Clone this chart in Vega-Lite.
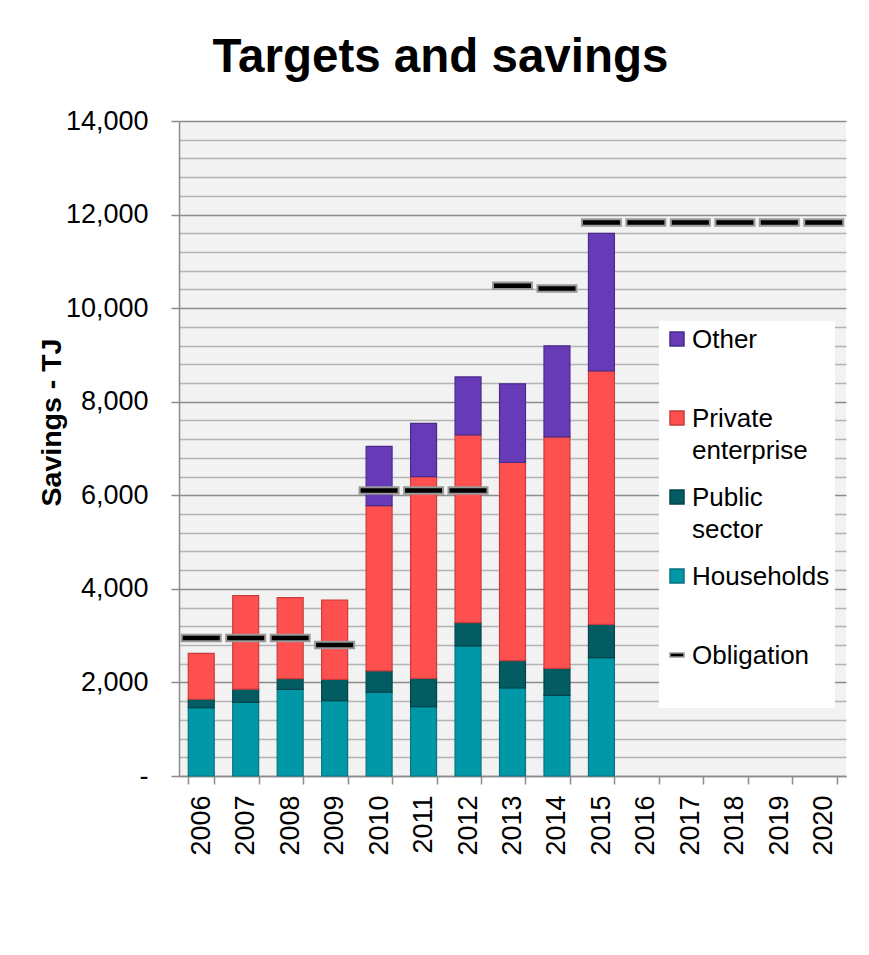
{
  "$schema": "https://vega.github.io/schema/vega-lite/v6.json",
  "width": 667,
  "height": 655,
  "autosize": {"type": "none"},
  "padding": {"left": 179, "top": 121, "right": 23, "bottom": 179},
  "background": "white",
  "title": {
    "text": "Targets and savings",
    "font": "Liberation Sans",
    "fontSize": 47.5,
    "fontWeight": "bold",
    "color": "black",
    "anchor": "middle",
    "frame": "group",
    "dx": -72,
    "dy": 48,
    "baseline": "alphabetic",
    "offset": 36
  },
  "config": {
    "font": "Liberation Sans",
    "view": {"fill": "#F2F2F2", "stroke": null}
  },
  "datasets": {
    "savings": [
      {"year": "2006", "series": "Households", "rank": 1, "value": 1460},
      {"year": "2006", "series": "Public sector", "rank": 2, "value": 180},
      {"year": "2006", "series": "Private enterprise", "rank": 3, "value": 980},
      {"year": "2007", "series": "Households", "rank": 1, "value": 1575},
      {"year": "2007", "series": "Public sector", "rank": 2, "value": 280},
      {"year": "2007", "series": "Private enterprise", "rank": 3, "value": 2000},
      {"year": "2008", "series": "Households", "rank": 1, "value": 1853},
      {"year": "2008", "series": "Public sector", "rank": 2, "value": 227},
      {"year": "2008", "series": "Private enterprise", "rank": 3, "value": 1732},
      {"year": "2009", "series": "Households", "rank": 1, "value": 1610},
      {"year": "2009", "series": "Public sector", "rank": 2, "value": 457},
      {"year": "2009", "series": "Private enterprise", "rank": 3, "value": 1695},
      {"year": "2010", "series": "Households", "rank": 1, "value": 1792},
      {"year": "2010", "series": "Public sector", "rank": 2, "value": 455},
      {"year": "2010", "series": "Private enterprise", "rank": 3, "value": 3530},
      {"year": "2010", "series": "Other", "rank": 4, "value": 1270},
      {"year": "2011", "series": "Households", "rank": 1, "value": 1482},
      {"year": "2011", "series": "Public sector", "rank": 2, "value": 603},
      {"year": "2011", "series": "Private enterprise", "rank": 3, "value": 4313},
      {"year": "2011", "series": "Other", "rank": 4, "value": 1140},
      {"year": "2012", "series": "Households", "rank": 1, "value": 2782},
      {"year": "2012", "series": "Public sector", "rank": 2, "value": 495},
      {"year": "2012", "series": "Private enterprise", "rank": 3, "value": 4012},
      {"year": "2012", "series": "Other", "rank": 4, "value": 1240},
      {"year": "2013", "series": "Households", "rank": 1, "value": 1881},
      {"year": "2013", "series": "Public sector", "rank": 2, "value": 584},
      {"year": "2013", "series": "Private enterprise", "rank": 3, "value": 4240},
      {"year": "2013", "series": "Other", "rank": 4, "value": 1678},
      {"year": "2014", "series": "Households", "rank": 1, "value": 1724},
      {"year": "2014", "series": "Public sector", "rank": 2, "value": 577},
      {"year": "2014", "series": "Private enterprise", "rank": 3, "value": 4948},
      {"year": "2014", "series": "Other", "rank": 4, "value": 1946},
      {"year": "2015", "series": "Households", "rank": 1, "value": 2529},
      {"year": "2015", "series": "Public sector", "rank": 2, "value": 713},
      {"year": "2015", "series": "Private enterprise", "rank": 3, "value": 5414},
      {"year": "2015", "series": "Other", "rank": 4, "value": 2944}
    ],
    "obligation": [
      {"year": "2006", "series": "Obligation", "value": 2950},
      {"year": "2007", "series": "Obligation", "value": 2950},
      {"year": "2008", "series": "Obligation", "value": 2950},
      {"year": "2009", "series": "Obligation", "value": 2800},
      {"year": "2010", "series": "Obligation", "value": 6100},
      {"year": "2011", "series": "Obligation", "value": 6100},
      {"year": "2012", "series": "Obligation", "value": 6100},
      {"year": "2013", "series": "Obligation", "value": 10480},
      {"year": "2014", "series": "Obligation", "value": 10420},
      {"year": "2015", "series": "Obligation", "value": 11830},
      {"year": "2016", "series": "Obligation", "value": 11830},
      {"year": "2017", "series": "Obligation", "value": 11830},
      {"year": "2018", "series": "Obligation", "value": 11830},
      {"year": "2019", "series": "Obligation", "value": 11830},
      {"year": "2020", "series": "Obligation", "value": 11830}
    ]
  },
  "encoding": {
    "x": {
      "field": "year",
      "type": "nominal",
      "scale": {
        "domain": ["2006","2007","2008","2009","2010","2011","2012","2013","2014","2015","2016","2017","2018","2019","2020"],
        "paddingInner": 0.416,
        "paddingOuter": 0.208
      },
      "axis": {
        "title": null,
        "labelAngle": -90,
        "labelFontSize": 27,
        "labelColor": "black",
        "labelPadding": 11,
        "tickBand": "extent",
        "tickSize": 8,
        "tickColor": "#8C8C8C",
        "tickWidth": 1.5,
        "domainColor": "#8C8C8C",
        "domainWidth": 1.5,
        "grid": false
      }
    },
    "y": {
      "field": "value",
      "type": "quantitative",
      "scale": {"domain": [0, 14000], "nice": false},
      "axis": {
        "title": "Savings - TJ",
        "titleFontSize": 28.5,
        "titleFontWeight": "bold",
        "titleColor": "black",
        "titleAngle": -90,
        "titleX": -128,
        "titleY": 301,
        "titleAlign": "center",
        "titleBaseline": "middle",
        "values": [0,400,800,1200,1600,2000,2400,2800,3200,3600,4000,4400,4800,5200,5600,6000,6400,6800,7200,7600,8000,8400,8800,9200,9600,10000,10400,10800,11200,11600,12000,12400,12800,13200,13600,14000],
        "format": ",d",
        "labelExpr": "datum.value === 0 ? '-' : (datum.value % 2000 === 0 ? datum.label : '')",
        "labelOverlap": false,
        "labelFontSize": 27,
        "labelColor": "black",
        "labelPadding": 23,
        "tickSize": 8,
        "tickColor": "#8C8C8C",
        "tickWidth": 1.5,
        "tickOpacity": {"condition": {"test": "datum.value % 2000 === 0", "value": 1}, "value": 0},
        "domainColor": "#8C8C8C",
        "domainWidth": 1.5,
        "grid": true,
        "gridColor": {"condition": {"test": "datum.value % 2000 === 0", "value": "#8C8C8C"}, "value": "#B4B4B4"},
        "gridWidth": 1.5
      }
    }
  },
  "layer": [
    {
      "data": {"name": "savings"},
      "mark": {"type": "bar", "strokeWidth": 1.2},
      "encoding": {
        "y": {"field": "value", "type": "quantitative", "stack": "zero"},
        "order": {"field": "rank", "type": "quantitative"},
        "fill": {
          "field": "series",
          "type": "nominal",
          "scale": {
            "domain": ["Other", "Private enterprise", "Public sector", "Households", "Obligation"],
            "range": ["#673AB7", "#FF5050", "#045C63", "#0097A7", "#000000"]
          },
          "legend": {
            "title": " ",
            "titleOrient": "bottom",
            "titleFontSize": 26,
            "titlePadding": 8,
            "orient": "none",
            "legendX": 480,
            "legendY": 200,
            "fillColor": "white",
            "padding": 5,
            "symbolType": "square",
            "symbolSize": 196,
            "symbolStrokeWidth": 1.5,
            "symbolOffset": 0,
            "labelOffset": 2,
            "labelFontSize": 26,
            "labelColor": "black",
            "labelLimit": 300,
            "labelBaseline": "alphabetic",
            "labelExpr": "datum.label === 'Private enterprise' ? ['Private', 'enterprise'] : datum.label === 'Public sector' ? ['Public', 'sector'] : datum.label",
            "gridAlign": "all",
            "rowPadding": 20,
            "encode": {
              "symbols": {
                "update": {
                  "shape": {"signal": "datum.value === 'Obligation' ? 'M-1,-0.28L1,-0.28L1,0.28L-1,0.28Z' : 'square'"}
                }
              },
              "labels": {
                "update": {"dy": {"value": 9}, "lineHeight": {"value": 32}}
              }
            }
          }
        },
        "stroke": {
          "field": "series",
          "type": "nominal",
          "scale": {
            "domain": ["Other", "Private enterprise", "Public sector", "Households", "Obligation"],
            "range": ["#4B2A8C", "#C83C3C", "#03444A", "#0A7480", "#999999"]
          },
          "legend": null
        }
      }
    },
    {
      "data": {"name": "obligation"},
      "mark": {"type": "tick", "size": 39, "thickness": 6.5, "strokeWidth": 2, "opacity": 1},
      "encoding": {
        "fill": {"field": "series", "type": "nominal"},
        "stroke": {"field": "series", "type": "nominal"}
      }
    }
  ]
}
